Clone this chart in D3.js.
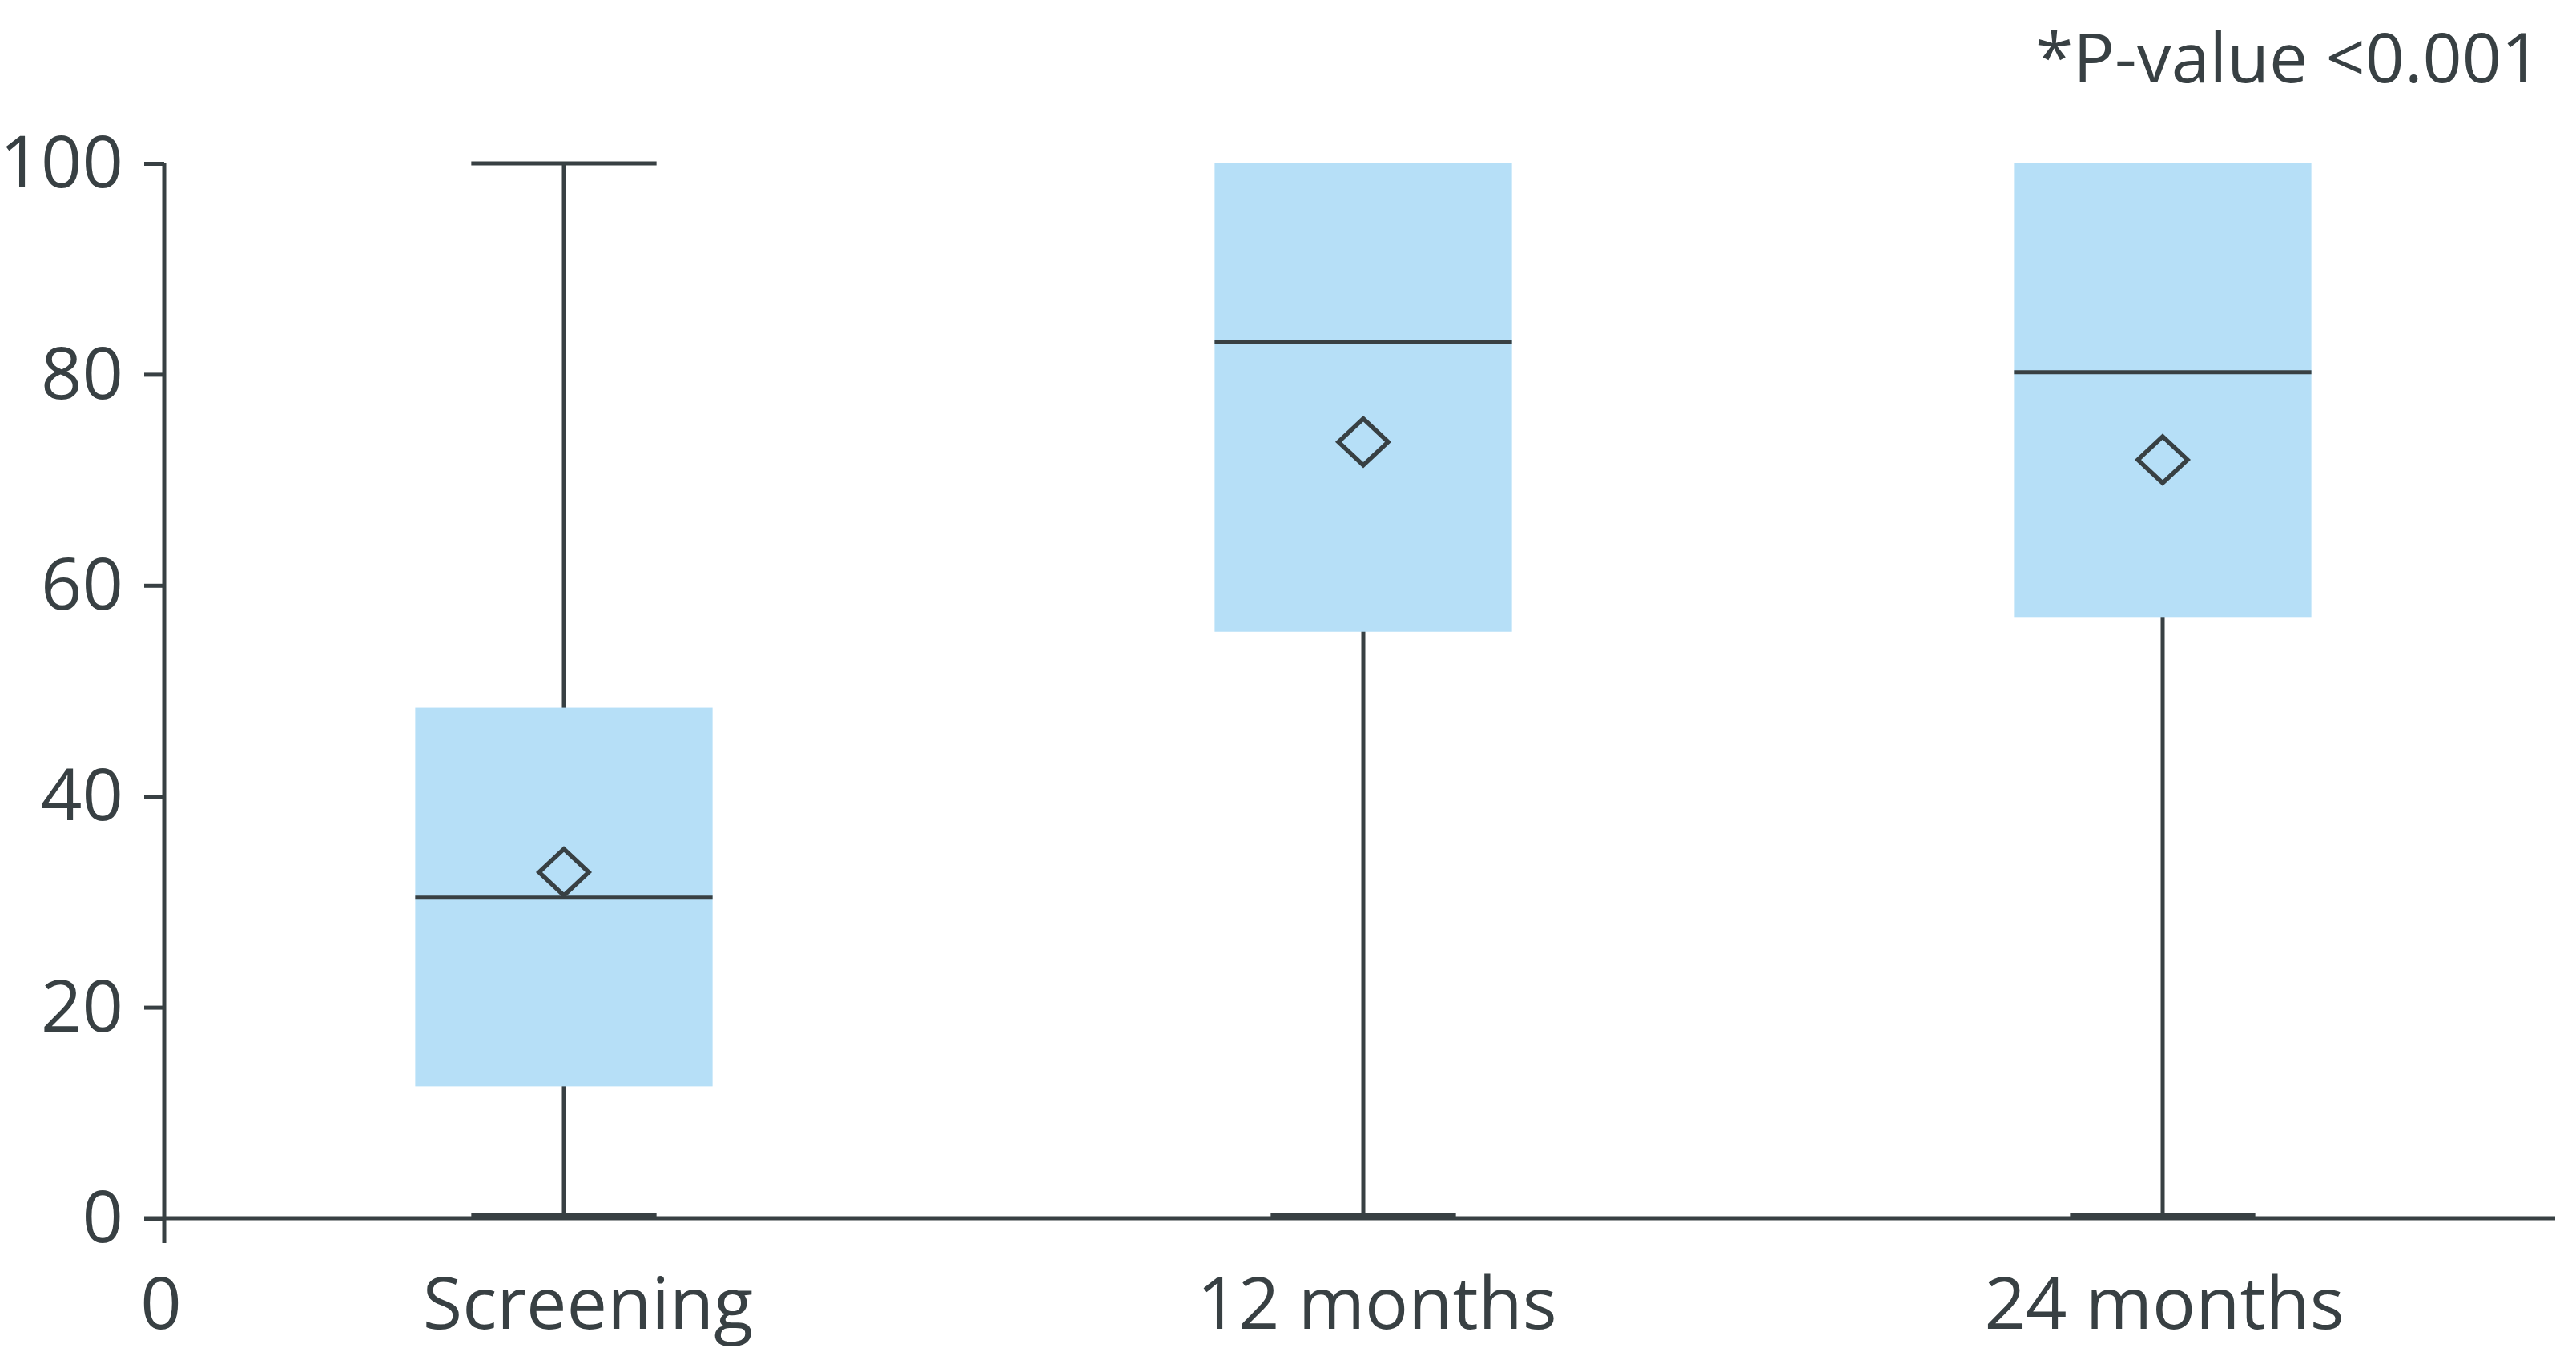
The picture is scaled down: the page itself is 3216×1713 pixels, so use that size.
<!DOCTYPE html>
<html>
<head>
<meta charset="utf-8">
<script src="https://cdn.jsdelivr.net/npm/d3@7"></script>
<style>
  body { margin: 0; background: #fff; }
  text { font-family: "Open Sans", "Noto Sans", sans-serif; fill: #384043; }
</style>
</head>
<body>
<svg class="chart"></svg>
<script>
// box plot values (score, 0-100)
var categories   = ["Screening", "12 months", "24 months"];
var whiskerLow   = [0.3, 0.3, 0.3];
var q1           = [12.5, 55.6, 57.0];
var median       = [30.4, 83.1, 80.2];
var q3           = [48.4, 100, 100];
var whiskerHigh  = [100, 100, 100];
var means        = [32.8, 73.6, 71.9];
var yTicks       = [0, 20, 40, 60, 80, 100];
var note         = "*P-value <0.001";

var width = 3216,
    height = 1713;

var ink = "#384043",
    boxFill = "#b6dff7";

var svg = d3.select(".chart")
            .attr("width", width)
            .attr("height", height);

var y = d3.scaleLinear().domain([0, 100]).range([1521, 204]);

var x = d3.scaleBand()
  .domain(categories)
  .range([205, 3199])
  .paddingInner(0.628)
  .paddingOuter(0.314);

var boxes = categories.map(function(c, i){
  return {name: c, lo: whiskerLow[i], q1: q1[i], med: median[i], q3: q3[i], hi: whiskerHigh[i], mean: means[i]};
});

var capW = x.bandwidth() * 0.623;

// y axis
var yAxis = d3.axisLeft(y).tickValues(yTicks).tickSize(25).tickPadding(26);
var gy = svg.append("g").attr("transform", "translate(" + x.range()[0] + ",0)").call(yAxis);
gy.select(".domain").remove();
gy.selectAll(".tick line").attr("stroke", ink).attr("stroke-width", 5);
gy.selectAll(".tick text")
  .attr("fill", ink)
  .style("font-size", "90px")
  .attr("dy", "0.33em");

// axis lines
svg.append("line")
  .attr("x1", x.range()[0]).attr("x2", x.range()[0])
  .attr("y1", y(100)).attr("y2", y(0) + 31)
  .attr("stroke", ink).attr("stroke-width", 5);

// whiskers + caps (drawn under the boxes)
var g = svg.selectAll(".box").data(boxes).enter().append("g").attr("class", "box");

g.append("line")
  .attr("x1", function(d){ return x(d.name) + x.bandwidth()/2; })
  .attr("x2", function(d){ return x(d.name) + x.bandwidth()/2; })
  .attr("y1", function(d){ return y(d.hi); })
  .attr("y2", function(d){ return y(d.lo); })
  .attr("stroke", ink).attr("stroke-width", 5);

// a cap that coincides with the box edge is hidden in the original
g.selectAll(".cap").data(function(d){
    return [d.hi, d.lo]
      .filter(function(v){ return v > d.q3 || v < d.q1; })
      .map(function(v){ return {name: d.name, v: v}; });
  })
  .enter().append("line").attr("class", "cap")
  .attr("x1", function(d){ return x(d.name) + x.bandwidth()/2 - capW/2; })
  .attr("x2", function(d){ return x(d.name) + x.bandwidth()/2 + capW/2; })
  .attr("y1", function(d){ return y(d.v); })
  .attr("y2", function(d){ return y(d.v); })
  .attr("stroke", ink).attr("stroke-width", 5);

g.append("rect")
  .attr("x", function(d){ return x(d.name); })
  .attr("width", x.bandwidth())
  .attr("y", function(d){ return y(d.q3); })
  .attr("height", function(d){ return y(d.q1) - y(d.q3); })
  .attr("fill", boxFill);

g.append("line")
  .attr("x1", function(d){ return x(d.name); })
  .attr("x2", function(d){ return x(d.name) + x.bandwidth(); })
  .attr("y1", function(d){ return y(d.med); })
  .attr("y2", function(d){ return y(d.med); })
  .attr("stroke", ink).attr("stroke-width", 5);

// mean diamond
var diamond = d3.line()([[-31, 0], [0, -29], [31, 0], [0, 29]]) + "Z";
g.append("path")
  .attr("d", diamond)
  .attr("transform", function(d){ return "translate(" + (x(d.name) + x.bandwidth()/2) + "," + y(d.mean) + ")"; })
  .attr("fill", "none")
  .attr("stroke", ink).attr("stroke-width", 5.5)
  .attr("stroke-linejoin", "miter");

// x axis line, drawn last so it sits over the lower caps
svg.append("line")
  .attr("x1", x.range()[0] - 25).attr("x2", 3190)
  .attr("y1", y(0)).attr("y2", y(0))
  .attr("stroke", ink).attr("stroke-width", 5);

// category labels
var labelShift = [30, 17, 2];
svg.selectAll(".xlabel").data(categories).enter().append("text")
  .attr("class", "xlabel")
  .attr("x", function(d, i){ return x(d) + x.bandwidth()/2 + labelShift[i]; })
  .attr("y", 1659)
  .attr("text-anchor", "middle")
  .style("font-size", "90px")
  .text(function(d){ return d; });

svg.append("text")
  .attr("x", x.range()[0] - 4)
  .attr("y", 1659)
  .attr("text-anchor", "middle")
  .style("font-size", "90px")
  .text("0");

svg.append("text")
  .attr("x", 3172)
  .attr("y", 103)
  .attr("text-anchor", "end")
  .style("font-size", "86px")
  .text(note);
</script>
</body>
</html>
